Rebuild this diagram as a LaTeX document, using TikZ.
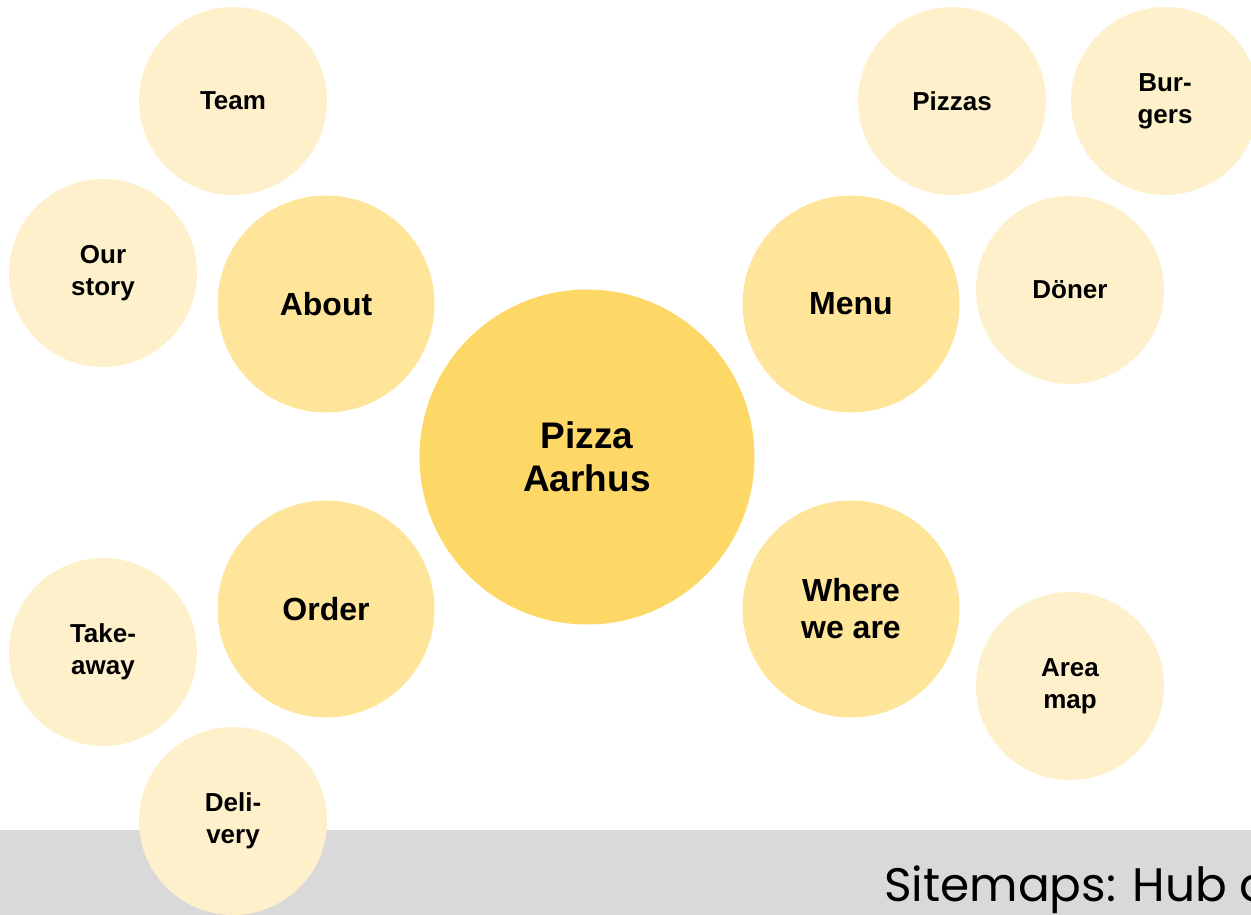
\documentclass[tikz,border=0pt]{standalone}
\usepackage{fontspec}
\setmainfont{Liberation Sans}
\newfontfamily\captionfont{Poppins}
\definecolor{hubyellow}{HTML}{FDD867}
\definecolor{midyellow}{HTML}{FEE599}
\definecolor{paleyellow}{HTML}{FFF0CC}
\definecolor{bandgray}{HTML}{D9D9D9}
\tikzset{
  hub/.style={circle, fill=hubyellow, minimum size=335pt, inner sep=0pt, align=center,
    font=\fontsize{37}{43}\selectfont\bfseries},
  section/.style={circle, fill=midyellow, minimum size=217pt, inner sep=0pt, align=center,
    font=\fontsize{32}{37}\selectfont\bfseries},
  page/.style={circle, fill=paleyellow, minimum size=188pt, inner sep=0pt, align=center,
    font=\fontsize{26}{32}\selectfont\bfseries}
}
\begin{document}
\begin{tikzpicture}[x=1pt,y=-1pt]
\useasboundingbox (0,0) rectangle (1251,915);
\clip (0,0) rectangle (1251,915);
% footer band
\fill [bandgray] (0,830) rectangle (1251,915);
\node [anchor=base west, inner sep=0pt, font=\captionfont\fontsize{47}{53}\selectfont] (caption) at (884,901) {Sitemaps: Hub a};
% hub
\node [hub] (pizza) at (587,457) {Pizza\\Aarhus};
% sections
\node [section] (about) at (326,304) {About};
\node [section] (menu) at (851,304) {Menu};
\node [section] (order) at (326,609) {Order};
\node [section] (where) at (851,609) {Where\\we are};
% pages
\node [page] (team) at (233,101) {Team};
\node [page] (story) at (103,273) {Our\\story};
\node [page] (pizzas) at (952,101) {Pizzas};
\node [page] (burgers) at (1165,101) {Bur-\\gers};
\node [page] (doner) at (1070,290) {Döner};
\node [page] (takeaway) at (103,652) {Take-\\away};
\node [page] (delivery) at (233,821) {Deli-\\very};
\node [page] (areamap) at (1070,686) {Area\\map};
\end{tikzpicture}
\end{document}
